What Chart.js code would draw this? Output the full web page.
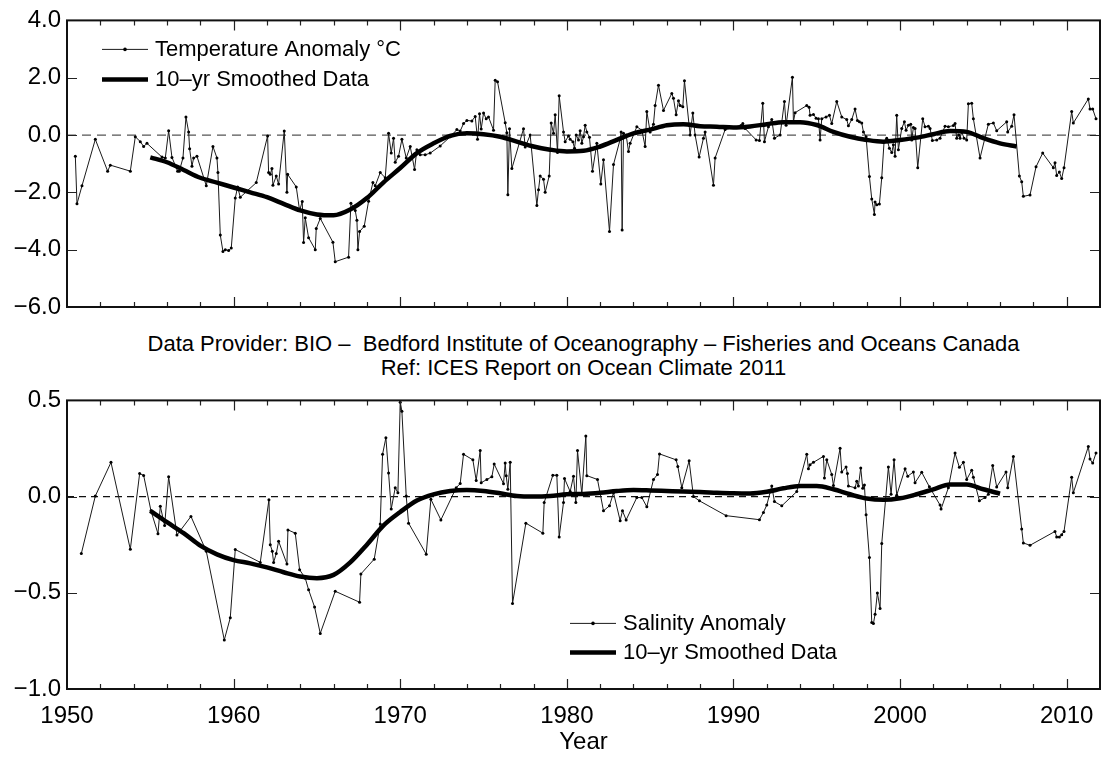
<!DOCTYPE html>
<html>
<head>
<meta charset="utf-8">
<script src="https://cdn.jsdelivr.net/npm/chart.js@4.4.1/dist/chart.umd.min.js"></script>
<style>
  body { margin: 0; background: #fff; width: 1114px; height: 758px; position: relative; overflow: hidden;
         font-family: "Liberation Sans", Arial, sans-serif; }
  #tempChart { position: absolute; left: 0; top: 0; }
  #salChart { position: absolute; left: 0; top: 380px; }
  .provider { position: absolute; left: 67px; width: 1033px; top: 332px; text-align: center;
              font-size: 22px; line-height: 24px; color: #000; white-space: pre; }
</style>
</head>
<body>
<canvas id="tempChart" width="1114" height="330"></canvas>
<div class="provider">Data Provider: BIO –  Bedford Institute of Oceanography – Fisheries and Oceans Canada
Ref: ICES Report on Ocean Climate 2011</div>
<canvas id="salChart" width="1114" height="378"></canvas>
<script>
// Axis setup
const xMin = 1950, xMax = 2012;
const xLabelYears = [1950, 1960, 1970, 1980, 1990, 2000, 2010];
const tempTicks = [-6, -4, -2, 0, 2, 4];
const salTicks = [-1.0, -0.5, 0.0, 0.5];

// Temperature anomaly (raw)
const tempYears = [
  1950.5, 1950.6, 1950.9, 1951.7, 1952.44, 1952.6, 1953.8, 1954.1, 1954.4, 1954.6, 1954.8,
  1955.7, 1955.9, 1956.1, 1956.3, 1956.64, 1956.74, 1956.96, 1957.14, 1957.3, 1957.36, 1957.5, 1957.6, 1957.8,
  1958.36, 1958.76, 1959.0, 1959.06, 1959.2, 1959.36, 1959.5, 1959.7, 1959.86, 1960.1, 1960.24, 1960.4,
  1961.36, 1962.04, 1962.1, 1962.2, 1962.3, 1962.36, 1962.56, 1962.7, 1963.04, 1963.2, 1963.24, 1963.76,
  1963.96, 1964.12, 1964.2, 1964.3, 1964.5, 1964.9, 1964.96, 1965.2, 1965.96, 1966.1, 1966.9, 1967.04,
  1967.3, 1967.4, 1967.46, 1967.56, 1967.84, 1968.1, 1968.36, 1968.5, 1968.8, 1969.1, 1969.3, 1969.46,
  1969.6, 1969.7, 1969.9, 1970.1, 1970.36, 1970.6, 1970.86, 1971.0, 1971.2, 1971.5, 1971.8, 1972.4,
  1973.0, 1973.4, 1973.6, 1973.8, 1974.0, 1974.3, 1974.5, 1974.64, 1974.76, 1974.86, 1975.0, 1975.16,
  1975.3, 1975.6, 1975.7, 1975.84, 1976.3, 1976.4, 1976.46, 1976.56, 1976.7, 1977.4, 1977.5, 1977.8,
  1978.2, 1978.3, 1978.4, 1978.6, 1978.7, 1978.94, 1979.06, 1979.2, 1979.3, 1979.44, 1979.54, 1979.8,
  1979.9, 1980.1, 1980.2, 1980.36, 1980.46, 1980.56, 1980.7, 1980.8, 1980.9, 1981.0, 1981.1, 1981.2,
  1981.36, 1981.54, 1981.8, 1982.04, 1982.2, 1982.56, 1982.8, 1983.2, 1983.26, 1983.32, 1983.4, 1983.56,
  1983.7, 1983.8, 1984.2, 1984.5, 1984.7, 1984.8, 1985.0, 1985.2, 1985.3, 1985.5, 1985.8, 1986.3,
  1986.4, 1986.56, 1986.7, 1986.8, 1986.96, 1987.06, 1987.4, 1987.56, 1987.7, 1987.94, 1988.2, 1988.3,
  1988.8, 1988.9, 1989.5, 1990.45, 1990.56, 1990.7, 1991.36, 1991.56, 1991.76, 1991.86, 1992.1, 1992.3,
  1992.46, 1992.8, 1993.06, 1993.16, 1993.54, 1993.6, 1993.7, 1994.4, 1994.54, 1994.6, 1994.8, 1994.96,
  1995.1, 1995.2, 1995.3, 1995.56, 1995.76, 1995.9, 1996.2, 1996.5, 1996.8, 1996.9, 1997.1, 1997.3,
  1997.44, 1997.56, 1997.7, 1997.8, 1997.96, 1998.16, 1998.3, 1998.46, 1998.5, 1998.6, 1998.76, 1998.9,
  1999.04, 1999.2, 1999.36, 1999.5, 1999.6, 1999.7, 1999.8, 1999.9, 2000.1, 2000.26, 2000.36, 2000.5,
  2000.64, 2000.7, 2000.8, 2000.9, 2001.06, 2001.36, 2001.5, 2001.7, 2001.8, 2001.94, 2002.2, 2002.4,
  2002.7, 2002.9, 2003.2, 2003.3, 2003.4, 2003.52, 2003.6, 2003.7, 2003.84, 2004.0, 2004.1, 2004.3,
  2004.4, 2004.8, 2005.3, 2005.6, 2005.8, 2006.4, 2006.46, 2006.7, 2006.84, 2007.16, 2007.3, 2007.4,
  2007.8, 2008.16, 2008.56, 2009.2, 2009.3, 2009.4, 2009.56, 2009.7, 2009.84, 2010.3, 2010.4, 2011.3,
  2011.4, 2011.56, 2011.76
];
const tempAnomaly = [
  -0.74, -2.4, -1.77, -0.15, -1.26, -1.05, -1.26, -0.06, -0.23, -0.4, -0.29,
  -0.77, -0.8, 0.15, -0.78, -1.26, -1.26, -0.8, 0.63, 0.11, -0.48, -1.09, -0.8, -0.74,
  -1.77, -0.4, -0.8, -1.31, -3.49, -4.06, -4.0, -4.03, -3.94, -2.2, -1.81, -2.17,
  -1.66, -0.03, -1.31, -1.37, -1.17, -1.75, -1.43, -1.71, 0.14, -2.0, -1.37, -1.81,
  -2.63, -2.32, -3.75, -2.89, -3.58, -4.0, -3.26, -2.91, -3.74, -4.42, -4.26, -2.38,
  -2.63, -2.97, -4.0, -3.37, -3.18, -2.31, -1.66, -1.77, -1.31, -1.49, 0.06, -0.63,
  -0.11, -0.95, -0.74, -0.15, -0.8, -0.4, -1.2, -0.51, -0.69, -0.69, -0.63, -0.38,
  -0.06, 0.19, 0.14, 0.4, 0.51, 0.49, 0.65, -0.15, 0.74, 0.21, 0.77, 0.57,
  0.63, 0.17, 1.91, 1.86, 0.43, 0.08, -2.08, 0.22, -1.17, 0.22, -0.42, 0.0,
  -2.46, -1.91, -1.43, -1.54, -2.0, -1.43, 0.42, 0.06, 0.71, -0.61, 1.37, 0.11,
  -0.23, -0.03, -0.15, -0.23, -0.46, 0.0, -0.17, 0.15, -0.29, -0.06, 0.34, 0.11,
  -0.08, -1.26, -0.29, -1.71, -0.86, -3.37, -1.03, -0.15, 0.11, -3.31, 0.06, 0.0,
  -0.57, -0.29, 0.29, 0.17, -0.4, 0.82, 0.11, 0.38, 1.03, 1.74, 0.86, 1.45,
  1.28, 0.71, 1.2, 1.03, 0.99, 1.89, 0.0, 0.77, 0.0, -0.77, -0.11, 0.11,
  -1.75, -0.8, 0.19, 0.33, 0.4, 0.23, -0.17, -0.19, 1.11, -0.23, 0.29, 0.54,
  -0.11, 0.0, 1.17, 0.34, 2.02, 0.46, 0.78, 1.03, 0.97, 0.69, 0.72, 0.59,
  0.57, -0.17, 0.57, 0.63, 0.69, 0.4, 1.17, 0.63, 0.54, 0.32, 0.54, 0.91,
  0.51, 0.46, 0.42, 0.11, -0.06, -1.45, -2.23, -2.77, -2.34, -2.43, -2.41, -1.49,
  -0.23, -0.11, -0.46, -0.61, -0.34, -0.74, 0.69, -0.51, 0.23, 0.46, 0.17, 0.34,
  0.38, -0.17, 0.26, 0.23, -1.14, 0.57, 0.29, 0.31, 0.23, -0.19, -0.17, -0.11,
  0.31, 0.29, 0.33, 0.4, -0.11, 0.0, -0.11, 0.11, -0.11, -0.17, 1.09, 1.11,
  0.57, -0.8, 0.38, 0.42, 0.15, 0.46, 0.11, 0.31, 0.71, -1.43, -1.63, -2.14,
  -2.09, -1.11, -0.63, -1.14, -0.97, -1.41, -1.29, -1.52, -1.14, 0.82, 0.42, 1.26,
  0.91, 0.91, 0.57
];

// Temperature 10-yr smoothed
const tempSmoothYears = [
  1955, 1956, 1957, 1958, 1959, 1960, 1961, 1962, 1963, 1964, 1965, 1966, 1967, 1968, 1969,
  1970, 1971, 1972, 1973, 1974, 1975, 1976, 1977, 1978, 1979, 1980, 1981, 1982, 1983, 1984,
  1985, 1986, 1987, 1988, 1989, 1990, 1991, 1992, 1993, 1994, 1995, 1996, 1997, 1998, 1999,
  2000, 2001, 2002, 2003, 2004, 2005, 2006, 2007
];
const tempSmooth = [
  -0.78, -0.95, -1.22, -1.49, -1.66, -1.83, -2.0, -2.17, -2.4, -2.63, -2.77, -2.8, -2.6, -2.2, -1.65,
  -1.15, -0.63, -0.29, -0.03, 0.06, 0.03, -0.06, -0.23, -0.4, -0.51, -0.57, -0.55, -0.4, -0.17, 0.06,
  0.19, 0.34, 0.38, 0.31, 0.29, 0.26, 0.3, 0.38, 0.45, 0.45, 0.35, 0.11, -0.06, -0.17, -0.23,
  -0.17, -0.09, 0.03, 0.14, 0.11, -0.11, -0.29, -0.4
];

// Salinity anomaly (raw)
const salYears = [
  1950.86, 1951.7, 1952.64, 1953.8, 1954.36, 1954.6, 1955.04, 1955.46, 1955.6, 1955.86, 1956.1, 1956.6,
  1957.44, 1958.36, 1959.44, 1959.8, 1960.1, 1961.6, 1962.12, 1962.2, 1962.32, 1962.4, 1962.56, 1962.7,
  1963.2, 1963.26, 1963.7, 1963.96, 1964.3, 1964.5, 1964.86, 1965.2, 1966.1, 1967.56, 1967.64, 1968.44,
  1968.8, 1968.94, 1969.14, 1969.3, 1969.46, 1969.7, 1969.86, 1970.0, 1970.1, 1970.36, 1970.5, 1971.56,
  1971.84, 1972.44, 1973.36, 1973.6, 1973.8, 1974.36, 1974.56, 1974.8, 1974.86, 1975.2, 1975.5, 1975.64,
  1976.2, 1976.3, 1976.36, 1976.46, 1976.6, 1976.74, 1977.54, 1978.56, 1978.64, 1979.16, 1979.4, 1979.54,
  1979.8, 1979.86, 1980.2, 1980.4, 1980.54, 1980.64, 1980.9, 1981.14, 1981.2, 1981.84, 1982.2, 1982.56,
  1982.8, 1983.2, 1983.34, 1983.56, 1984.2, 1984.5, 1984.8, 1985.2, 1985.44, 1985.56, 1986.56, 1986.66,
  1986.9, 1987.34, 1987.6, 1987.96, 1989.56, 1991.56, 1991.8, 1992.0, 1992.3, 1992.46, 1992.9, 1993.8,
  1994.4, 1994.5, 1994.6, 1994.8, 1995.4, 1995.46, 1995.6, 1995.9, 1996.0, 1996.4, 1996.5, 1996.76,
  1996.84, 1996.9, 1997.3, 1997.4, 1997.5, 1997.64, 1997.76, 1997.86, 1997.96, 1998.16, 1998.3, 1998.4,
  1998.5, 1998.64, 1998.8, 1998.9, 1999.3, 1999.46, 1999.64, 1999.8, 2000.3, 2000.46, 2000.8, 2000.9,
  2001.3, 2001.76, 2002.4, 2002.46, 2002.9, 2003.3, 2003.56, 2003.8, 2004.0, 2004.3, 2004.4, 2004.76,
  2005.1, 2005.3, 2005.56, 2005.8, 2006.36, 2006.46, 2006.8, 2007.3, 2007.4, 2007.8, 2009.3, 2009.4,
  2009.56, 2009.7, 2009.84, 2010.3, 2010.4, 2011.3, 2011.4, 2011.56, 2011.76
];
const salAnomaly = [
  -0.296, 0.003, 0.178, -0.274, 0.12, 0.11, -0.074, -0.193, -0.05, -0.15, 0.103, -0.2,
  -0.103, -0.284, -0.745, -0.63, -0.275, -0.342, -0.017, -0.25, -0.284, -0.342, -0.296, -0.232,
  -0.35, -0.173, -0.19, -0.38, -0.424, -0.484, -0.574, -0.711, -0.492, -0.549, -0.402, -0.325,
  -0.142, 0.22, 0.306, 0.123, -0.065, 0.046, 0.02, 0.49, 0.444, 0.003, -0.138, -0.299,
  -0.014, -0.121, 0.046, 0.068, 0.22, 0.191, 0.084, 0.239, 0.072, 0.089, 0.103, 0.169,
  0.067, 0.174, 0.109, 0.038, 0.178, -0.556, -0.138, -0.19, -0.031, 0.111, 0.111, -0.21,
  -0.031, 0.094, 0.026, 0.106, -0.031, 0.239, 0.012, 0.315, 0.109, 0.089, -0.074, -0.048,
  0.02, -0.125, -0.074, -0.121, -0.005, -0.005, -0.053, 0.089, 0.115, 0.222, 0.191, 0.157,
  0.046, 0.186, 0.0, -0.022, -0.099, -0.12, -0.082, -0.044, 0.055, -0.026, -0.048, 0.026,
  0.22, 0.145, 0.166, 0.178, 0.209, 0.097, 0.191, 0.115, 0.058, 0.251, 0.128, 0.154,
  0.12, 0.055, 0.046, 0.08, 0.055, 0.149, 0.043, 0.06, -0.094, -0.316, -0.655, -0.66,
  -0.612, -0.501, -0.581, -0.244, 0.154, 0.012, 0.191, 0.007, 0.145, 0.106, 0.128, 0.072,
  0.126, 0.051, -0.044, -0.065, 0.046, 0.226, 0.152, 0.178, 0.089, 0.137, 0.101, -0.022,
  -0.005, 0.012, 0.162, 0.05, 0.128, 0.046, 0.209, -0.168, -0.241, -0.253, -0.181, -0.21,
  -0.21, -0.198, -0.181, 0.101, 0.02, 0.26, 0.195, 0.174, 0.226
];

// Salinity 10-yr smoothed
const salSmoothYears = [
  1955, 1956, 1957, 1958, 1959, 1960, 1961, 1962, 1963, 1964, 1965, 1966, 1967, 1968, 1969,
  1970, 1971, 1972, 1973, 1974, 1975, 1976, 1977, 1978, 1979, 1980, 1981, 1982, 1983, 1984,
  1985, 1986, 1987, 1988, 1989, 1990, 1991, 1992, 1993, 1994, 1995, 1996, 1997, 1998, 1999,
  2000, 2001, 2002, 2003, 2004, 2005, 2006
];
const salSmooth = [
  -0.074, -0.133, -0.19, -0.255, -0.3, -0.33, -0.347, -0.368, -0.393, -0.415, -0.424, -0.407, -0.342, -0.25, -0.15,
  -0.08, -0.02, 0.012, 0.029, 0.034, 0.029, 0.017, 0.003, 0.0, 0.003, 0.012, 0.014, 0.02, 0.029, 0.034,
  0.032, 0.029, 0.026, 0.024, 0.02, 0.017, 0.016, 0.025, 0.043, 0.055, 0.055, 0.038, 0.012, -0.01, -0.017,
  -0.009, 0.012, 0.038, 0.063, 0.063, 0.038, 0.015
];

const FONT = '"Liberation Sans", Arial, Helvetica, sans-serif';
Chart.defaults.font.family = FONT;
Chart.defaults.color = '#000';

const toPoints = (xs, ys) => xs.map((x, i) => ({ x: x, y: ys[i] }));
const fmtTick = (v) => (v < 0 ? '\u2212' : '') + Math.abs(v).toFixed(1);

// Box frame with inward tick marks on all four sides
const frameTicks = {
    id: 'frameTicks',
    afterDatasetsDraw(chart, args, opts) {
        const { ctx, chartArea: a, scales: { x, y } } = chart;
        ctx.save();
        ctx.strokeStyle = '#222';
        ctx.lineWidth = 1.2;
        ctx.beginPath();
        for (let yr = xMin + 2; yr < xMax; yr += 2) {
            const px = Math.round(x.getPixelForValue(yr)) + 0.5;
            const len = yr % 10 === 0 ? 10 : 5;
            ctx.moveTo(px, a.bottom); ctx.lineTo(px, a.bottom - len);
            ctx.moveTo(px, a.top); ctx.lineTo(px, a.top + len);
        }
        opts.yTicks.forEach(v => {
            const py = Math.round(y.getPixelForValue(v)) + 0.5;
            ctx.moveTo(a.left, py); ctx.lineTo(a.left + 10, py);
            ctx.moveTo(a.right, py); ctx.lineTo(a.right - 10, py);
        });
        ctx.stroke();
        ctx.lineWidth = 2;
        ctx.strokeStyle = '#111';
        ctx.strokeRect(a.left, a.top, a.right - a.left, a.bottom - a.top);
        ctx.restore();
    }
};

// Legend drawn inside the plot area
const insideLegend = {
    id: 'insideLegend',
    afterDraw(chart, args, o) {
        const { ctx, chartArea: a } = chart;
        const items = chart.data.datasets.filter(d => d.label);
        ctx.save();
        ctx.font = '22px ' + FONT;
        ctx.textBaseline = 'middle';
        ctx.fillStyle = '#000';
        items.forEach((d, i) => {
            const yy = a.top + o.top + i * o.rowGap;
            const x0 = a.left + o.left, x1 = x0 + o.sampleWidth;
            ctx.strokeStyle = d.borderColor;
            ctx.lineWidth = d.borderWidth;
            ctx.beginPath();
            ctx.moveTo(x0, yy); ctx.lineTo(x1, yy);
            ctx.stroke();
            if (d.pointRadius > 0) {
                ctx.beginPath();
                ctx.arc((x0 + x1) / 2, yy, d.pointRadius + 0.3, 0, Math.PI * 2);
                ctx.fill();
            }
            ctx.fillText(d.label, x1 + o.textGap, yy + 1);
        });
        ctx.restore();
    }
};

function makePanel(id, p) {
    return new Chart(document.getElementById(id), {
        type: 'line',
        data: {
            datasets: [
                {
                    label: p.rawLabel,
                    data: toPoints(p.rawX, p.rawY),
                    borderColor: '#1a1a1a',
                    borderWidth: 1,
                    pointRadius: 1.5,
                    pointBackgroundColor: '#000',
                    pointBorderWidth: 0,
                    tension: 0,
                    order: 1
                },
                {
                    label: '10\u2013yr Smoothed Data',
                    data: toPoints(p.smoothX, p.smoothY),
                    borderColor: '#000',
                    borderWidth: 4.5,
                    pointRadius: 0,
                    cubicInterpolationMode: 'monotone',
                    borderCapStyle: 'butt',
                    order: 0
                },
                {
                    data: [{ x: xMin, y: 0 }, { x: xMax, y: 0 }],
                    borderColor: p.zeroColor,
                    borderWidth: 1.2,
                    borderDash: p.zeroDash,
                    pointRadius: 0,
                    order: 2
                }
            ]
        },
        options: {
            responsive: false,
            animation: false,
            events: [],
            layout: { padding: { top: p.padTop, right: 14, left: 0, bottom: 0 } },
            plugins: {
                legend: { display: false },
                tooltip: { enabled: false },
                frameTicks: { yTicks: p.yTicks },
                insideLegend: p.legend
            },
            scales: {
                x: {
                    type: 'linear',
                    min: xMin,
                    max: xMax,
                    afterBuildTicks: (s) => { s.ticks = xLabelYears.map(v => ({ value: v })); },
                    grid: { display: false, drawTicks: false },
                    border: { display: false },
                    ticks: { display: p.showX, font: { size: 24 }, padding: 13, maxRotation: 0,
                             callback: (v) => String(v) },
                    title: { display: p.showX, text: 'Year', font: { size: 24 }, padding: { top: 0, bottom: 1 } },
                    afterFit: (s) => { s.height = p.xHeight; }
                },
                y: {
                    type: 'linear',
                    min: p.yTicks[0],
                    max: p.yTicks[p.yTicks.length - 1],
                    afterBuildTicks: (s) => { s.ticks = p.yTicks.map(v => ({ value: v })); },
                    grid: { display: false, drawTicks: false },
                    border: { display: false },
                    ticks: { font: { size: 24 }, padding: 6, callback: fmtTick },
                    afterFit: (s) => { s.width = 67; }
                }
            }
        },
        plugins: [frameTicks, insideLegend]
    });
}

makePanel('tempChart', {
    rawLabel: 'Temperature Anomaly \u00B0C',
    rawX: tempYears, rawY: tempAnomaly,
    smoothX: tempSmoothYears, smoothY: tempSmooth,
    yTicks: tempTicks,
    zeroColor: '#555', zeroDash: [9, 6],
    padTop: 15, xHeight: 23, showX: false,
    legend: { left: 35, top: 29, rowGap: 30, sampleWidth: 46, textGap: 7 }
});

makePanel('salChart', {
    rawLabel: 'Salinity Anomaly',
    rawX: salYears, rawY: salAnomaly,
    smoothX: salSmoothYears, smoothY: salSmooth,
    yTicks: salTicks,
    zeroColor: '#111', zeroDash: [7, 5],
    padTop: 17, xHeight: 69, showX: true,
    legend: { left: 503, top: 223, rowGap: 29, sampleWidth: 46, textGap: 7 }
});
</script>
</body>
</html>
